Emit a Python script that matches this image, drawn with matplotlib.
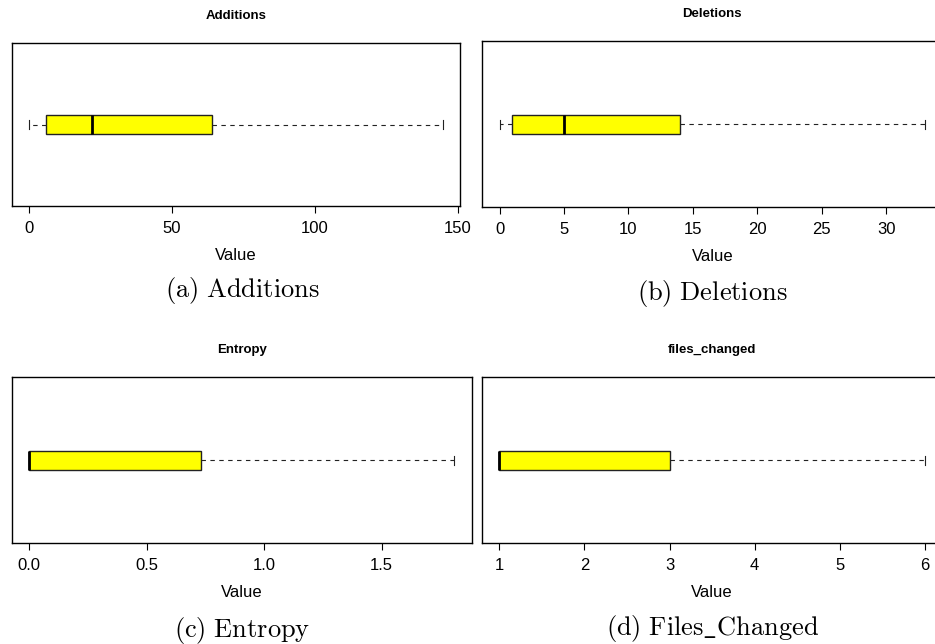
import matplotlib
matplotlib.use("Agg")
import matplotlib.pyplot as plt

plt.rcParams['font.family'] = ['Liberation Sans', 'DejaVu Sans']
plt.rcParams['mathtext.fontset'] = 'cm'

# five-number summaries: (min, q1, median, q3, max)
panel_titles = ["Additions", "Deletions", "Entropy", "files_changed"]
captions = [r"$\mathrm{(a)\ Additions}$", r"$\mathrm{(b)\ Deletions}$",
            r"$\mathrm{(c)\ Entropy}$", r"$\mathrm{(d)\ Files\_Changed}$"]
additions = [0, 6, 22, 64, 145]
deletions = [0, 1, 5, 14, 33]
entropy = [0, 0, 0, 0.73, 1.81]
files_changed = [1, 1, 1, 3, 6]
xticks = [[0, 50, 100, 150],
          [0, 5, 10, 15, 20, 25, 30],
          [0.0, 0.5, 1.0, 1.5],
          [1, 2, 3, 4, 5, 6]]
xticklabels = [["0", "50", "100", "150"],
               ["0", "5", "10", "15", "20", "25", "30"],
               ["0.0", "0.5", "1.0", "1.5"],
               ["1", "2", "3", "4", "5", "6"]]

W, H = 935, 644
fig = plt.figure(figsize=(W / 100, H / 100), dpi=100)

# axes boxes in pixels: left, top, right, bottom
boxes = [(12, 43, 460, 206),
         (482.5, 41.3, 942, 207.3),
         (12.3, 377.3, 471.5, 543.3),
         (482.3, 377.3, 942, 543.3)]
caption_pos = [(242, 290), (712.5, 293), (242, 630), (712.5, 628)]

for i, stats in enumerate([additions, deletions, entropy, files_changed]):
    l, t, r, b = boxes[i]
    ax = fig.add_axes([l / W, 1 - b / H, (r - l) / W, (b - t) / H])
    lo, q1, med, q3, hi = stats
    ax.bxp([dict(whislo=lo, q1=q1, med=med, q3=q3, whishi=hi, fliers=[])],
           positions=[1], widths=0.115, vert=False, patch_artist=True,
           showfliers=False,
           boxprops=dict(facecolor="#ffff00", edgecolor="#222222", linewidth=1),
           medianprops=dict(color="black", linewidth=2),
           whiskerprops=dict(color="#222222", linewidth=0.8, linestyle=(0, (4, 4))),
           capprops=dict(color="#222222", linewidth=0.8),
           capwidths=0.0575)
    rng = hi - lo
    ax.set_xlim(lo - 0.04 * rng, hi + 0.04 * rng)
    ax.set_ylim(0.5, 1.5)
    ax.set_yticks([])
    ax.set_xticks(xticks[i])
    ax.set_xticklabels(xticklabels[i])
    ax.tick_params(axis='x', length=5, width=0.8, pad=5.5, labelsize=12)
    for s in ax.spines.values():
        s.set_linewidth(1)
    ax.set_xlabel("Value", fontsize=12, labelpad=9)
    ax.set_title(panel_titles[i], fontsize=9.5, fontweight='bold', pad=17.5)
    cx, cy = caption_pos[i]
    fig.text(cx / W, 1 - cy / H, captions[i], fontsize=19, ha='center', va='center')

fig.savefig("out.png", dpi=100)
